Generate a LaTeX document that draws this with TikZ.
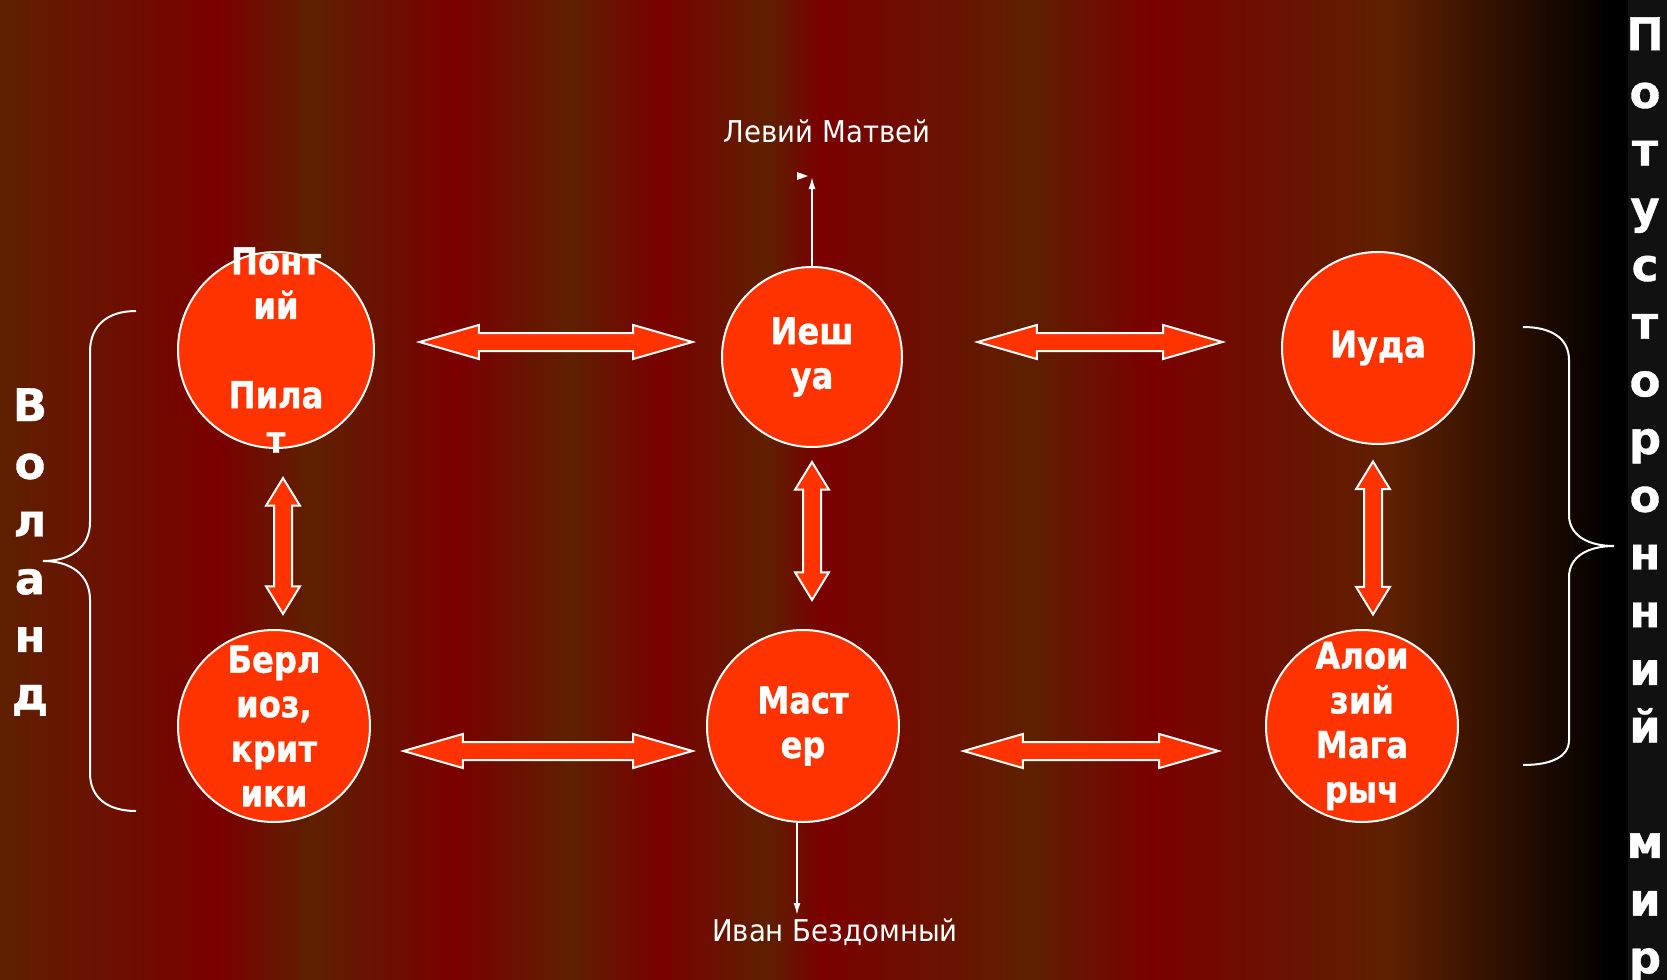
\documentclass[tikz,border=0pt]{standalone}
\usepackage{fontspec}
\usetikzlibrary{arrows.meta,shapes.arrows}
\newfontfamily\dvs[FakeStretch=0.87,BoldFeatures={FakeBold=1}]{DejaVu Sans}
\newfontfamily\dvsw[BoldFeatures={FakeBold=0.8}]{DejaVu Sans}
\newfontfamily\dvsl[FakeStretch=0.92]{DejaVu Sans}
\definecolor{brn}{RGB}{94,32,0}
\definecolor{rd}{RGB}{122,0,0}
\definecolor{fire}{RGB}{255,51,0}
\definecolor{strip}{RGB}{17,17,17}
\tikzset{
  hero/.style={circle,draw=white,line width=1pt,fill=fire,inner sep=0pt},
  herotxt/.style={text=white,align=center,inner sep=0pt,font=\dvs\bfseries\fontsize{18.5}{22.3}\selectfont},
  link/.style={double arrow,draw=white,line width=1pt,fill=fire,inner xsep=0pt,inner ysep=4pt,
    minimum width=16pt,double arrow head extend=4pt},
  hlink/.style={link,double arrow tip angle=32},
  vlink/.style={link,double arrow tip angle=63,rotate=90},
  side/.style={text=white,align=center,inner sep=0pt,font=\dvsw\bfseries\fontsize{22.5}{28.85}\selectfont},
  who/.style={text=white,inner sep=0pt,font=\dvsl\fontsize{15}{18}\selectfont},
  thinarr/.style={white,line width=0.8pt},
  brace/.style={white,line width=1pt}
}

\begin{document}
\begin{tikzpicture}[x=0.5pt,y=-0.5pt,>={Latex[length=6pt,width=3.5pt]}]
  \useasboundingbox (0,0) rectangle (1667,980);
  % fondo a rayas
  \foreach \xa/\ca/\xb/\cb in {0/brn/218/rd,218/rd/310/brn,310/brn/455/rd,455/rd/570/brn,
      570/brn/660/rd,660/rd/767/brn,767/brn/820/rd,820/rd/1030/brn,1030/brn/1150/rd,
      1150/rd/1390/brn,1390/brn/1610/black,1610/black/1628/black}
    \shade[left color=\ca,right color=\cb] (\xa,0) rectangle (\xb+1,980);
  \fill[strip] (1628,0) rectangle (1667,980);

  % personajes
  \node[hero,minimum size=98pt] (pilat) at (276,350) {};
  \node[hero,minimum size=90pt] (ieshua) at (812,357) {};
  \node[hero,minimum size=96pt] (iuda) at (1378,348) {};
  \node[hero,minimum size=96pt] (berlioz) at (274,726) {};
  \node[hero,minimum size=96pt] (master) at (803,726) {};
  \node[hero,minimum size=96pt] (aloizy) at (1362,726) {};
  \node[herotxt] (pilat-t) at (pilat) {Понт\\ий\\\mbox{}\\Пила\\т};
  \node[herotxt] (ieshua-t) at (ieshua) {Иеш\\уа};
  \node[herotxt] (iuda-t) at (iuda) {Иуда};
  \node[herotxt] (berlioz-t) at (berlioz) {Берл\\иоз,\\крит\\ики};
  \node[herotxt] (master-t) at (master) {Маст\\ер};
  \node[herotxt] (aloizy-t) at (aloizy) {Алои\\зий\\Мага\\рыч};

  % flechas dobles
  \node[hlink,minimum height=136.5pt] (a1) at (556,342) {};
  \node[hlink,minimum height=122.5pt] (a2) at (1100,342) {};
  \node[hlink,minimum height=144.5pt] (a3) at (548,751) {};
  \node[hlink,minimum height=127.5pt] (a4) at (1091,751) {};
  \node[vlink,minimum height=68pt] (v1) at (283,546) {};
  \node[vlink,minimum height=69pt] (v2) at (812,531) {};
  \node[vlink,minimum height=76.5pt] (v3) at (1373,538) {};

  % Levi e Ivan
  \coordinate (levi-end) at (812,177);
  \draw[thinarr,->] (ieshua.north) -- (levi-end);
  \fill[white] (797,172) -- (808,176) -- (797,180) -- cycle;
  \node[who] (levi) at (827,131) {Левий Матвей};
  \coordinate (ivan-end) at (797,915);
  \draw[thinarr,->] (master.south -| ivan-end) -- (ivan-end);
  \node[who] (ivan) at (835,932) {Иван Бездомный};

  % llaves
  \draw[brace] (136,311) .. controls (108,311) and (90,325) .. (90,352) -- (90,522)
    .. controls (90,548) and (70,561) .. (43,561) .. controls (70,561) and (90,574) .. (90,600)
    -- (90,773) .. controls (90,798) and (108,811) .. (136,811);
  \draw[brace] (1523,327) .. controls (1551,327) and (1569,338) .. (1569,360) -- (1569,515)
    .. controls (1569,536) and (1589,546) .. (1614,546) .. controls (1589,546) and (1569,556) .. (1569,577)
    -- (1569,740) .. controls (1569,757) and (1551,765) .. (1523,765);
  \node[side] (woland) at (30,552) {В\\о\\л\\а\\н\\д};
  \node[side] (beyond) at (1645,500) {П\\о\\т\\у\\с\\т\\о\\р\\о\\н\\н\\и\\й\\\mbox{}\\м\\и\\р};
\end{tikzpicture}
\end{document}
